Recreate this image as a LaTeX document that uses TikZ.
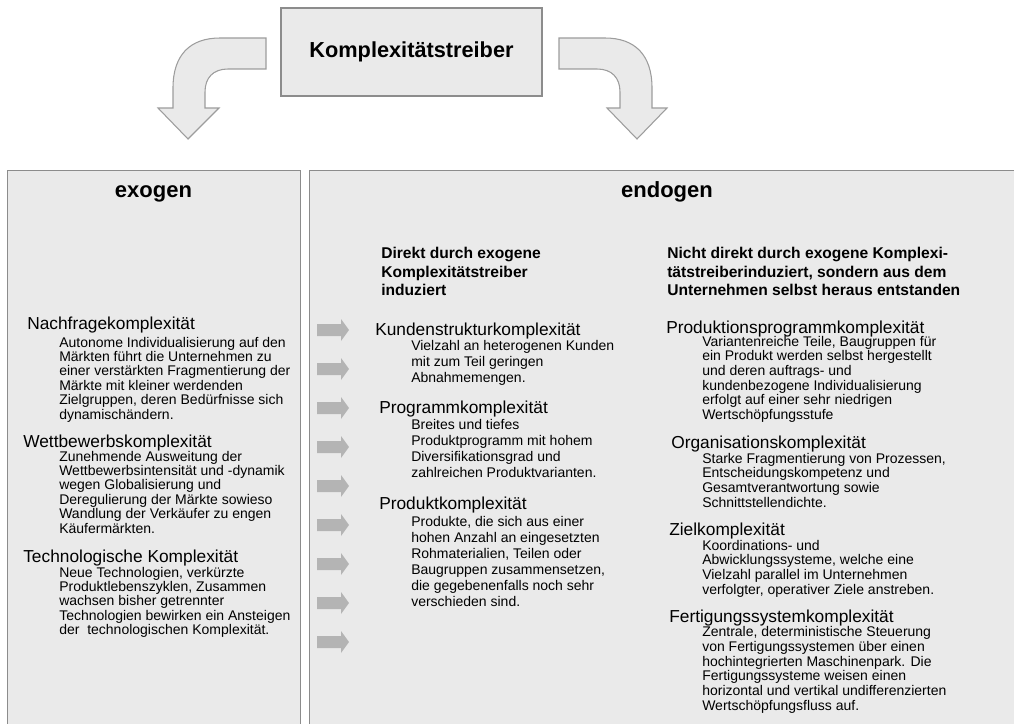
\documentclass[tikz,border=0pt]{standalone}
\usepackage{fontspec}
\setmainfont{Liberation Sans}
\definecolor{boxgray}{RGB}{234,234,234}
\definecolor{linegray}{RGB}{140,140,140}
\definecolor{arrowgray}{RGB}{180,180,180}
\usetikzlibrary{positioning,calc}

\begin{document}
\begin{tikzpicture}[x=0.75pt, y=-0.75pt,
    column/.style={rectangle, draw=linegray, line width=0.8pt, fill=boxgray, anchor=north west, inner sep=0pt, minimum height=427.5pt},
    driver/.style={rectangle, draw=linegray, line width=0.8pt, fill=boxgray, minimum width=195.75pt, minimum height=66pt, font=\fontsize{16.3}{18}\selectfont\bfseries},
    bentarrow/.style={draw=linegray!85, line width=0.8pt, fill=boxgray},
    side/.style={font=\fontsize{16.5}{18}\selectfont\bfseries, anchor=base, inner sep=0pt},
    group/.style={font=\fontsize{11.7}{13.7}\selectfont\bfseries, align=left, anchor=base west, inner sep=0pt},
    factor/.style={font=\fontsize{13}{15}\selectfont, anchor=base west, inner sep=0pt},
    detail/.style={font=\fontsize{10.5}{10.8}\selectfont, align=left, anchor=base west, inner sep=0pt},
    middetail/.style={detail, font=\fontsize{10.5}{12}\selectfont},
    rightdetail/.style={detail, font=\fontsize{10.5}{11}\selectfont},
    pointer/.style={fill=arrowgray}
]
    \useasboundingbox (0,0) rectangle (1014,724);

    % driver and the two bent arrows
    \node[driver] (driver) at (411.5,52) {Komplexitätstreiber};
    \draw[bentarrow] (266,38) -- (220,38) .. controls (190,38) and (173,55) .. (173,88) -- (173,108) -- (158,108) -- (188,139) -- (219,108) -- (205,108) -- (205,92) .. controls (205,78) and (213,69) .. (228,69) -- (266,69) -- cycle;
    \draw[bentarrow] (559,38) -- (605,38) .. controls (635,38) and (652,55) .. (652,88) -- (652,108) -- (667,108) -- (637,139) -- (607,108) -- (620,108) -- (620,92) .. controls (620,78) and (612,69) .. (597,69) -- (559,69) -- cycle;

    % columns
    \node[column, minimum width=219.75pt] (exo) at (7,170) {};
    \node[column, minimum width=540.75pt] (endo) at (309,170) {};
    \node[side] (exolabel) at (153.5,197) {exogen};
    \node[side] (endolabel) at (667,197) {endogen};

    % multi-line texts sit on the baseline of their last line
    \node[group] (direct) at (381,295.5) {Direkt durch exogene\\Komplexitätstreiber\\induziert};
    \node[group] (indirect) at (667,295.5) {Nicht direkt durch exogene Komplexi-\\tätstreiberinduziert, sondern aus dem\\Unternehmen selbst heraus entstanden};

    % exogen
    \node[factor] (demand) at (27,329) {Nachfragekomplexität};
    \node[detail] (demandtext) at (59,419) {Autonome Individualisierung auf den\\Märkten führt die Unternehmen zu\\einer verstärkten Fragmentierung der\\Märkte mit kleiner werdenden\\Zielgruppen, deren Bedürfnisse sich\\dynamischändern.};
    \node[factor] (competition) at (23,447) {Wettbewerbskomplexität};
    \node[detail] (competitiontext) at (59,533) {Zunehmende Ausweitung der\\Wettbewerbsintensität und -dynamik\\wegen Globalisierung und\\Deregulierung der Märkte sowieso\\Wandlung der Verkäufer zu engen\\Käufermärkten.};
    \node[factor] (technology) at (23,562) {Technologische Komplexität};
    \node[detail] (technologytext) at (59,634.6) {Neue Technologien, verkürzte\\Produktlebenszyklen, Zusammen\\wachsen bisher getrennter\\Technologien bewirken ein Ansteigen\\der\ \ technologischen Komplexität.};

    % endogen, induced
    \foreach \y in {330,369,...,642}
        \fill[pointer] (317,\y-6) -- (341,\y-6) -- (341,\y-11) -- (349,\y) -- (341,\y+11) -- (341,\y+6) -- (317,\y+6) -- cycle;
    \node[factor] (customer) at (375,335) {Kundenstrukturkomplexität};
    \node[middetail] (customertext) at (411,382) {Vielzahl an heterogenen Kunden\\mit zum Teil geringen\\Abnahmemengen.};
    \node[factor] (program) at (379,413) {Programmkomplexität};
    \node[middetail] (programtext) at (411,477) {Breites und tiefes\\Produktprogramm mit hohem\\Diversifikationsgrad und\\zahlreichen Produktvarianten.};
    \node[factor] (product) at (379,509) {Produktkomplexität};
    \node[middetail] (producttext) at (411,606) {Produkte, die sich aus einer\\hohen Anzahl an eingesetzten\\Rohmaterialien, Teilen oder\\Baugruppen zusammensetzen,\\die gegebenenfalls noch sehr\\verschieden sind.};

    % endogen, not induced
    \node[factor] (production) at (666,333) {Produktionsprogrammkomplexität};
    \node[rightdetail] (productiontext) at (702,419.5) {Variantenreiche Teile, Baugruppen für\\ein Produkt werden selbst hergestellt\\und deren auftrags- und\\kundenbezogene Individualisierung\\erfolgt auf einer sehr niedrigen\\Wertschöpfungsstufe};
    \node[factor] (organisation) at (671,448) {Organisationskomplexität};
    \node[rightdetail] (organisationtext) at (702,507) {Starke Fragmentierung von Prozessen,\\Entscheidungskompetenz und\\Gesamtverantwortung sowie\\Schnittstellendichte.};
    \node[factor] (goal) at (669,535) {Zielkomplexität};
    \node[rightdetail] (goaltext) at (702,594) {Koordinations- und\\Abwicklungssysteme, welche eine\\Vielzahl parallel im Unternehmen\\verfolgter, operativer Ziele anstreben.};
    \node[factor] (manufacturing) at (669,622) {Fertigungssystemkomplexität};
    \node[rightdetail] (manufacturingtext) at (702,710) {Zentrale, deterministische Steuerung\\von Fertigungssystemen über einen\\hochintegrierten Maschinenpark. Die\\Fertigungssysteme weisen einen\\horizontal und vertikal undifferenzierten\\Wertschöpfungsfluss auf.};
\end{tikzpicture}
\end{document}
